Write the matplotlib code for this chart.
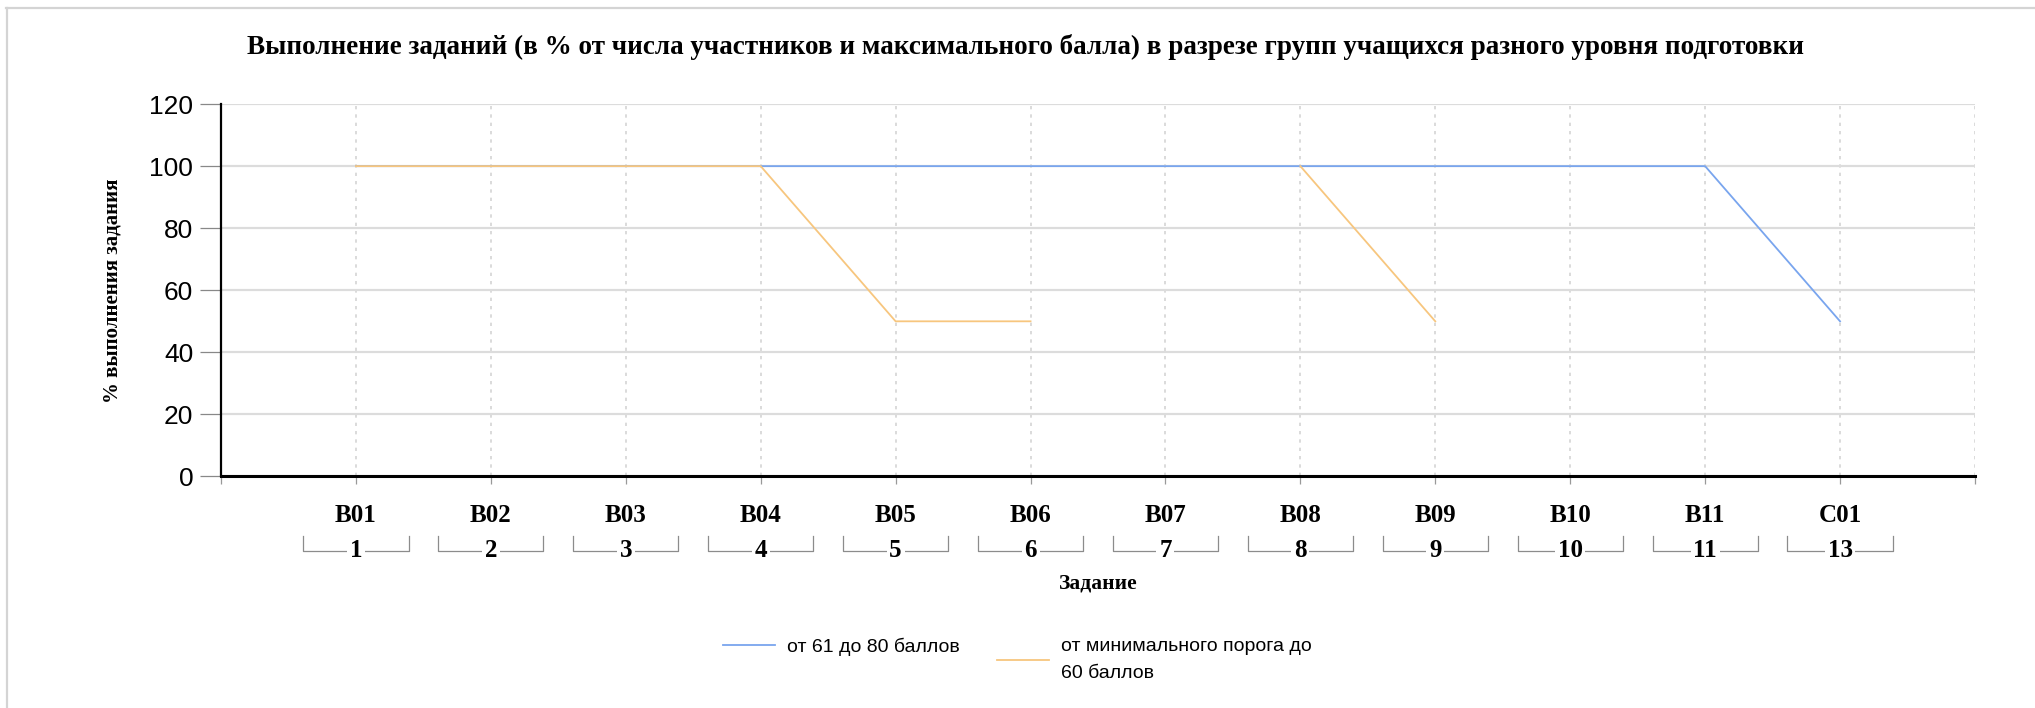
import numpy as np
import matplotlib
matplotlib.use("Agg")
import matplotlib.pyplot as plt
from matplotlib.lines import Line2D
import matplotlib.transforms as mtransforms

tasks = ["B01", "B02", "B03", "B04", "B05", "B06", "B07", "B08", "B09", "B10", "B11", "C01"]
task_nums = ["1", "2", "3", "4", "5", "6", "7", "8", "9", "10", "11", "13"]
grp_61_80 = [100, 100, 100, 100, 100, 100, 100, 100, 100, 100, 100, 50]
grp_min_60 = [100, 100, 100, 100, 50, 50, np.nan, 100, 50, np.nan, np.nan, np.nan]
labels = ["от 61 до 80 баллов", "от минимального порога до\n60 баллов"]

blue = "#79a5ee"
orange = "#f7c67e"
serif = "Liberation Serif"
sans = "Liberation Sans"

fig = plt.figure(figsize=(20.35, 7.08), dpi=100)
ax = fig.add_axes([0.1086, 0.327, 0.8619, 0.526])

x = np.arange(len(tasks))
l1, = ax.plot(x, grp_61_80, color=blue, lw=1.3, zorder=3)
l2, = ax.plot(x, grp_min_60, color=orange, lw=1.3, zorder=4)

ax.set_xlim(-1, len(tasks))
ax.set_ylim(0, 120)
ax.set_yticks(range(0, 121, 20))
ax.set_xticks(np.arange(-1, len(tasks) + 1))
ax.set_xticklabels([""] + tasks + [""], fontfamily=serif, fontweight="bold", fontsize=18)

ax.grid(axis="y", color="#dcdcdc", lw=1.6, zorder=0)
ax.grid(axis="x", color="#d4d4d4", lw=1.2, ls=(0, (2, 3)), zorder=0)

for s in ["top", "right"]:
    ax.spines[s].set_visible(False)
ax.spines["left"].set_linewidth(1.6)
ax.spines["bottom"].set_linewidth(2.2)
ax.spines["left"].set_zorder(5)
ax.spines["bottom"].set_zorder(5)

ax.tick_params(axis="y", length=15, width=0.9, color="#888888", pad=5, labelsize=19)
ax.tick_params(axis="x", length=6, width=0.9, color="#999999", pad=14)
for t in ax.get_yticklabels():
    t.set_fontfamily(sans)

# second row: task numbers with brackets
trans = mtransforms.blended_transform_factory(ax.transData, ax.transAxes)
for i, n in enumerate(task_nums):
    ax.plot([i - 0.39, i - 0.39, i + 0.39, i + 0.39], [-0.159, -0.199, -0.199, -0.159],
            color="#8c8c8c", lw=0.9, transform=trans, clip_on=False)
    ax.text(i, -0.199, n, transform=trans, ha="center", va="center",
            fontfamily=serif, fontweight="bold", fontsize=18,
            bbox=dict(facecolor="white", edgecolor="none", pad=2))

ax.text(0.5, -0.288, "Задание", transform=ax.transAxes, ha="center", va="center",
        fontfamily=serif, fontweight="bold", fontsize=15.5)
ax.set_ylabel("% выполнения задания", fontfamily=serif, fontweight="bold", fontsize=15)
ax.yaxis.set_label_coords(-0.056, 0.5)

fig.text(0.5037, 0.934, "Выполнение заданий (в % от числа участников и максимального балла) в разрезе групп учащихся разного уровня подготовки",
         ha="center", va="center", fontfamily=serif, fontweight="bold", fontsize=19.5)

leg_kw = dict(loc="upper left", frameon=False, prop={"family": sans, "size": 14},
              handlelength=2.68, handletextpad=0.62, borderpad=0, borderaxespad=0)
fig.legend([l1], labels[:1], bbox_to_anchor=(0.3553, 0.099), **leg_kw)
leg2 = fig.legend([l2], labels[1:], bbox_to_anchor=(0.4899, 0.099), **leg_kw)
for t in leg2.get_texts():
    t.set_linespacing(1.8)

# light frame around the chart (top and left only)
fig.add_artist(Line2D([0.003, 1.0], [0.988, 0.988], color="#d4d4d4", lw=1.6, transform=fig.transFigure))
fig.add_artist(Line2D([0.0032, 0.0032], [0.0, 0.988], color="#d4d4d4", lw=1.6, transform=fig.transFigure))

fig.savefig("out.png", dpi=100, facecolor="white")
